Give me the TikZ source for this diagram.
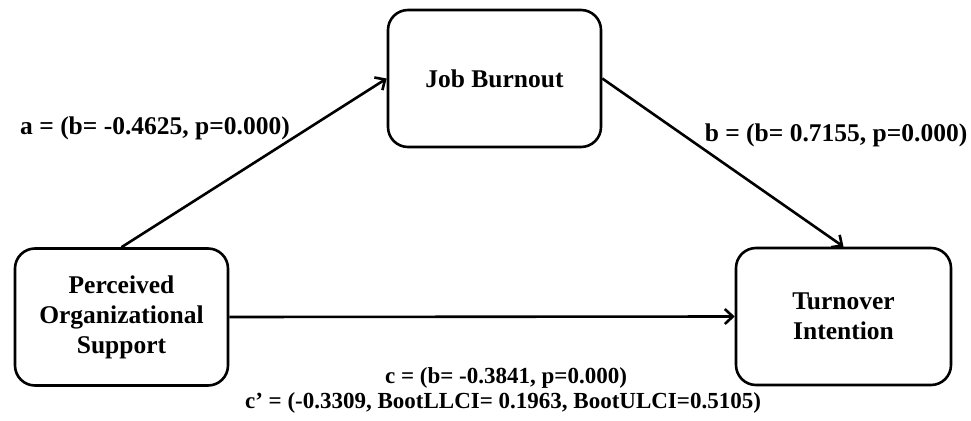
\documentclass[tikz,border=0pt]{standalone}
\usepackage{fontspec}
\setmainfont{Liberation Serif}
\usetikzlibrary{arrows.meta}
\begin{document}
\begin{tikzpicture}[x=1pt,y=-1pt,
  box/.style={draw,line width=2.6pt,rounded corners=20pt,align=center,
    font=\bfseries\fontsize{25.5}{30}\selectfont,inner sep=0pt},
  lbl/.style={font=\bfseries\fontsize{25.5}{26}\selectfont,inner sep=0pt,align=center},
  lblc/.style={font=\bfseries\fontsize{23}{26}\selectfont,inner sep=0pt,align=center},
  conn/.style={line width=2.6pt,-{Straight Barb[length=8pt,width=15pt,line width=2.6pt]}}]
\useasboundingbox (0,0) rectangle (971,420);
\node[box,minimum width=213pt,minimum height=137pt] (pos) at (121.5,317) {Perceived\\Organizational\\Support};
\node[box,minimum width=213pt,minimum height=137pt] (jb) at (494.5,78.5) {Job Burnout};
\node[box,minimum width=215pt,minimum height=137pt] (ti) at (843.5,316.5) {Turnover\\Intention};
\draw[conn] (pos.north) -- (jb.west);
\draw[conn] (jb.east) -- (ti.north);
\draw[conn] (pos.east) -- (ti.west);
\node[lbl] (la) at (155,128) {a = (b= -0.4625, p=0.000)};
\node[lbl] (lb) at (836,135) {b = (b= 0.7155, p=0.000)};
\node[lblc] (lc) at (506,378) {c = (b= -0.3841, p=0.000)};
\node[lblc] (lc2) at (503,403) {c’ = (-0.3309, BootLLCI= 0.1963, BootULCI=0.5105)};
\end{tikzpicture}
\end{document}
